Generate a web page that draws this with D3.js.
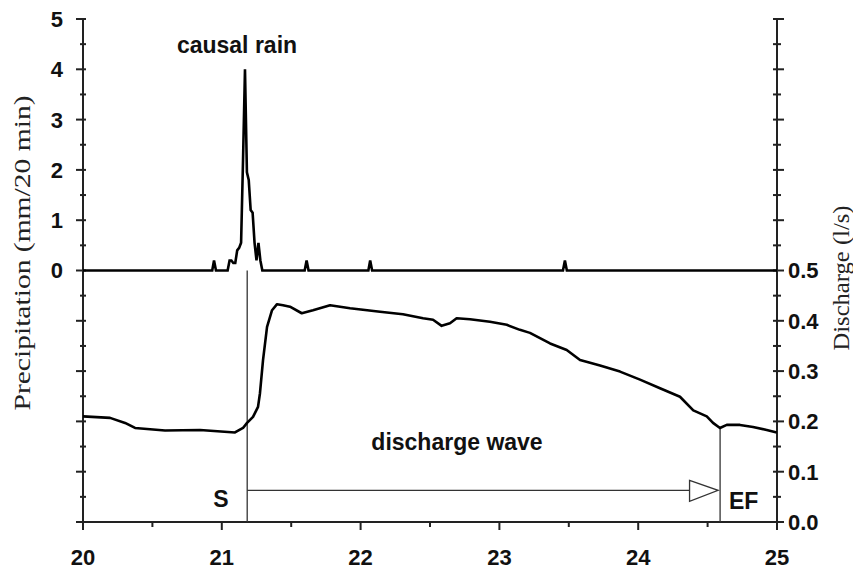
<!DOCTYPE html>
<html>
<head>
<meta charset="utf-8">
<script src="https://cdn.jsdelivr.net/npm/d3@7"></script>
<style>
  body { margin: 0; background: #fff; }
  svg { display: block; }
</style>
</head>
<body>
<div id="chart"></div>
<script>
const W = 853, H = 572;

// time axis (days)
const dayTicks = [20, 21, 22, 23, 24, 25];
const dayMinor = [20.5, 21.5, 22.5, 23.5, 24.5];

// precipitation (mm / 20 min), 20-min records around the rain events
const rainDay = [20, 20.931, 20.944, 20.958,
  21.042, 21.056, 21.069, 21.083, 21.097, 21.111, 21.125, 21.139, 21.153, 21.167,
  21.181, 21.194, 21.208, 21.222, 21.236, 21.250, 21.264, 21.278, 21.292,
  21.597, 21.611, 21.625,
  22.056, 22.069, 22.083,
  23.458, 23.472, 23.486, 25];
const rainMm = [0, 0, 0.2, 0,
  0, 0.2, 0.2, 0.15, 0.15, 0.4, 0.45, 0.55, 2.2, 4.0,
  1.95, 1.8, 1.2, 1.15, 0.55, 0.2, 0.55, 0.2, 0,
  0, 0.2, 0,
  0, 0.2, 0,
  0, 0.2, 0, 0];

// discharge (l/s)
const flowDay = [20.000, 20.195, 20.303, 20.375, 20.591, 20.843, 21.095, 21.153, 21.182,
  21.225, 21.261, 21.275, 21.297, 21.326, 21.362, 21.398, 21.441, 21.491, 21.576,
  21.657, 21.780, 21.924, 22.140, 22.305, 22.450, 22.522, 22.584, 22.644, 22.692,
  22.788, 22.932, 23.053, 23.148, 23.220, 23.365, 23.485, 23.581, 23.725, 23.869,
  24.013, 24.157, 24.301, 24.397, 24.494, 24.539, 24.589, 24.638, 24.733, 24.827,
  24.926, 24.998];
const flowLs = [0.210, 0.207, 0.197, 0.187, 0.182, 0.183, 0.178, 0.187, 0.197,
  0.209, 0.229, 0.256, 0.322, 0.388, 0.421, 0.433, 0.431, 0.428, 0.415,
  0.421, 0.431, 0.425, 0.418, 0.413, 0.405, 0.402, 0.390, 0.395, 0.405,
  0.403, 0.398, 0.392, 0.382, 0.376, 0.355, 0.342, 0.322, 0.311, 0.299,
  0.283, 0.266, 0.249, 0.222, 0.210, 0.197, 0.187, 0.193, 0.193, 0.189,
  0.183, 0.178];

// axis ticks
const rainLabels = [0, 1, 2, 3, 4, 5];
const rainMarks = d3.range(-10, 11).map(d => d / 2);
const flowLabels = [0, 0.1, 0.2, 0.3, 0.4, 0.5];
const flowMarks = d3.range(0, 21).map(d => d / 20);

// wave start (S) and end of flow (EF)
const waveStart = 21.183, waveEnd = 24.59, arrowLevel = 0.063, arrowBase = 24.37;

const x = d3.scaleLinear().domain([20, 25]).range([83, 777]);
const yP = d3.scaleLinear().domain([-5, 5]).range([522, 19]);
const yQ = d3.scaleLinear().domain([0, 1]).range([522, 19]);

const sans = "Liberation Sans, Arial, sans-serif";
const serif = "Liberation Serif, Times New Roman, serif";

const svg = d3.select("#chart").append("svg")
    .attr("width", W)
    .attr("height", H);

// left axis
svg.append("line")
    .attr("x1", x(20)).attr("x2", x(20))
    .attr("y1", yP(5)).attr("y2", yP(-5))
    .attr("stroke", "#222").attr("stroke-width", 2);
svg.selectAll(".ltick").data(rainMarks).enter().append("line")
    .attr("x1", d => Number.isInteger(d) ? x(20) - 7 : x(20) - 3)
    .attr("x2", x(20) + 3)
    .attr("y1", d => yP(d)).attr("y2", d => yP(d))
    .attr("stroke", "#222").attr("stroke-width", 2);
svg.selectAll(".llab").data(rainLabels).enter().append("text")
    .attr("x", 63).attr("y", d => yP(d)).attr("dy", "0.36em")
    .attr("text-anchor", "end")
    .attr("font-family", sans).attr("font-weight", "bold").attr("font-size", 22)
    .attr("fill", "#111")
    .text(d => d);

// right axis
svg.append("line")
    .attr("x1", x(25)).attr("x2", x(25))
    .attr("y1", yQ(1)).attr("y2", yQ(0))
    .attr("stroke", "#222").attr("stroke-width", 2);
svg.selectAll(".rtick").data(flowMarks).enter().append("line")
    .attr("x1", x(25) - 4)
    .attr("x2", (d, i) => i % 2 === 0 ? x(25) + 7 : x(25) + 4)
    .attr("y1", d => yQ(d)).attr("y2", d => yQ(d))
    .attr("stroke", "#222").attr("stroke-width", 2);
svg.selectAll(".rlab").data(flowLabels).enter().append("text")
    .attr("x", 788).attr("y", d => yQ(d)).attr("dy", "0.36em")
    .attr("font-family", sans).attr("font-weight", "bold").attr("font-size", 22)
    .attr("fill", "#111")
    .text(d => d3.format(".1f")(d));

// bottom axis
svg.append("line")
    .attr("x1", x(20)).attr("x2", x(25))
    .attr("y1", yQ(0)).attr("y2", yQ(0))
    .attr("stroke", "#222").attr("stroke-width", 2);
svg.selectAll(".btick").data(dayTicks.concat(dayMinor)).enter().append("line")
    .attr("x1", d => x(d)).attr("x2", d => x(d))
    .attr("y1", yQ(0))
    .attr("y2", d => Number.isInteger(d) ? yQ(0) + 8 : yQ(0) + 5)
    .attr("stroke", "#222").attr("stroke-width", 2);
svg.selectAll(".blab").data(dayTicks).enter().append("text")
    .attr("x", d => x(d)).attr("y", 565)
    .attr("text-anchor", "middle")
    .attr("font-family", sans).attr("font-weight", "bold").attr("font-size", 22)
    .attr("fill", "#111")
    .text(d => d);

// axis titles
svg.append("text")
    .attr("transform", "translate(30,253) rotate(-90)")
    .attr("text-anchor", "middle")
    .attr("font-family", serif).attr("font-size", 23)
    .attr("textLength", 315).attr("lengthAdjust", "spacingAndGlyphs")
    .attr("fill", "#222")
    .text("Precipitation (mm/20 min)");
svg.append("text")
    .attr("transform", "translate(849,278) rotate(-90)")
    .attr("text-anchor", "middle")
    .attr("font-family", serif).attr("font-size", 23)
    .attr("textLength", 145).attr("lengthAdjust", "spacingAndGlyphs")
    .attr("fill", "#222")
    .text("Discharge (l/s)");

// S and EF markers
svg.append("line")
    .attr("x1", x(waveStart)).attr("x2", x(waveStart))
    .attr("y1", yP(0)).attr("y2", yQ(0))
    .attr("stroke", "#333").attr("stroke-width", 1.3);
svg.append("line")
    .attr("x1", x(waveEnd)).attr("x2", x(waveEnd))
    .attr("y1", yQ(0.187)).attr("y2", yQ(0))
    .attr("stroke", "#333").attr("stroke-width", 1.3);
svg.append("line")
    .attr("x1", x(waveStart)).attr("x2", x(arrowBase))
    .attr("y1", yQ(arrowLevel)).attr("y2", yQ(arrowLevel))
    .attr("stroke", "#333").attr("stroke-width", 1.3);
svg.append("path")
    .attr("d", d3.line()([
        [x(arrowBase), yQ(arrowLevel) - 10],
        [x(waveEnd) - 2, yQ(arrowLevel)],
        [x(arrowBase), yQ(arrowLevel) + 11]
    ]) + "Z")
    .attr("fill", "#fff").attr("stroke", "#333").attr("stroke-width", 1.3);

// precipitation series
svg.append("path")
    .datum(d3.zip(rainDay, rainMm))
    .attr("fill", "none").attr("stroke", "#000").attr("stroke-width", 2.6)
    .attr("d", d3.line().x(d => x(d[0])).y(d => yP(d[1])));

// discharge series
svg.append("path")
    .datum(d3.zip(flowDay, flowLs))
    .attr("fill", "none").attr("stroke", "#000").attr("stroke-width", 2.6)
    .attr("stroke-linejoin", "round")
    .attr("d", d3.line().x(d => x(d[0])).y(d => yQ(d[1])));

// annotations
const notes = [
    { t: "causal rain", x: 237, y: 53, a: "middle" },
    { t: "discharge wave", x: 457, y: 450, a: "middle" },
    { t: "S", x: 221, y: 507, a: "middle" },
    { t: "EF", x: 729, y: 509, a: "start" }
];
svg.selectAll(".note").data(notes).enter().append("text")
    .attr("x", d => d.x).attr("y", d => d.y)
    .attr("text-anchor", d => d.a)
    .attr("font-family", sans).attr("font-weight", "bold").attr("font-size", 23)
    .attr("fill", "#111")
    .text(d => d.t);
</script>
</body>
</html>
